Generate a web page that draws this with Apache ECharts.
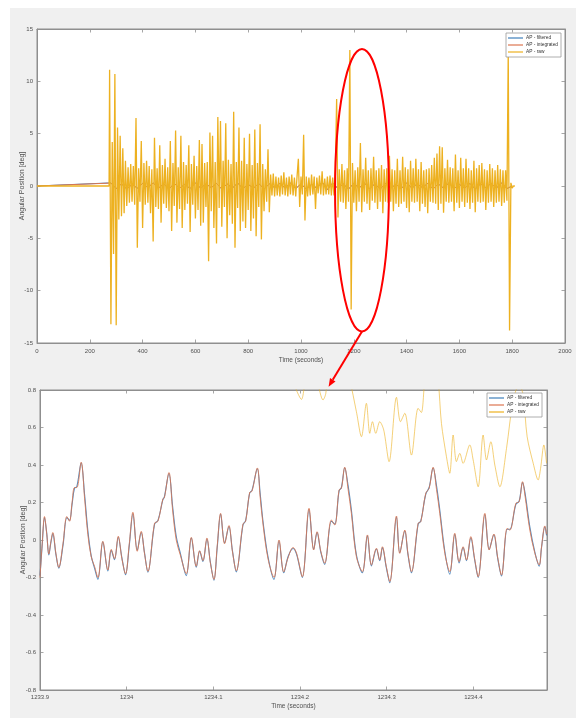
<!DOCTYPE html>
<html><head><meta charset="utf-8">
<script src="https://cdn.jsdelivr.net/npm/echarts@6/dist/echarts.min.js"></script>
<style>html,body{margin:0;padding:0;background:#f0f0f0}#c{width:576px;height:718px}</style>
</head><body><div id="c"></div>
<script>
// ---------------- DATA ----------------
const seriesNames = ['AP - filtered', 'AP - integrated', 'AP - raw'];

// Top plot tick labels
const topXTicks = [0, 200, 400, 600, 800, 1000, 1200, 1400, 1600, 1800, 2000];
const topYTicks = [-15, -10, -5, 0, 5, 10, 15];
// Bottom plot tick labels and x range
const botXTicks = [1233.9, 1234, 1234.1, 1234.2, 1234.3, 1234.4];
const botYTicks = [-0.8, -0.6, -0.4, -0.2, 0, 0.2, 0.4, 0.6, 0.8];
const botXRange = [1233.9, 1234.485];

// Top plot: recording is flat (0) until ~273 s, then sampled every 5 s
const rawTopLead = [[0, 0], [273, 0]];
const rawTopStart = 275, rawTopStep = 5;
const rawTopValues = [
 11.1,-13.2,4.2,-6.5,10.7,-13.3,5.6,-3.2,4.8,-2.9,
 3.6,-2.6,2.4,-1.9,1.8,-1.6,2.1,-1.5,1.9,-1.8,
 6.5,-5.9,1.7,-1.5,4.3,-4.0,2.2,-1.8,2.4,-1.6,
 1.9,-2.6,1.6,-5.3,4.6,-2.0,1.7,-2.2,3.9,-3.5,
 2.0,-1.7,2.6,-2.1,1.8,-2.4,4.3,-4.3,2.2,-1.9,
 5.3,-3.5,1.8,-2.2,4.8,-4.0,2.3,-2.3,2.0,-1.7,
 3.9,-4.4,2.1,-1.8,2.9,-3.1,1.9,-2.3,4.4,-3.8,
 4.0,-3.5,2.2,-2.0,2.3,-7.2,5.1,-2.4,4.8,-4.0,
 2.3,-5.5,6.6,-2.1,6.2,-3.9,2.4,-2.0,6.0,-5.0,
 2.5,-2.8,2.1,-3.6,7.1,-5.9,2.3,-2.1,5.6,-4.3,
 2.4,-3.4,4.6,-4.0,2.1,-2.3,5.0,-4.3,2.0,-3.1,
 5.4,-4.8,2.2,-2.0,5.9,-5.1,2.1,-2.4,1.6,-1.5,
 3.5,-2.5,1.1,-0.9,1.2,-1.0,0.9,-0.9,0.8,-1.0,
 1.0,-0.8,1.3,-0.9,0.8,-1.0,0.9,-0.8,1.1,-0.9,
 0.8,-1.0,0.9,2.6,-2.0,0.9,-0.8,4.9,-3.3,0.9,
 -1.0,0.8,-0.9,1.1,-0.8,0.9,-2.2,0.8,-0.7,1.0,
 -0.8,1.4,-0.9,0.7,-0.8,0.9,-0.8,1.0,-0.9,0.8,
 -0.9,1.6,8.3,-3.0,1.6,-1.5,2.1,-1.6,1.5,-2.2,
 1.7,-1.5,13.0,-11.8,2.2,-1.6,1.5,-2.4,1.8,-1.5,
 4.1,-2.5,1.6,-1.5,2.7,-1.7,1.5,-2.3,1.7,-1.4,
 2.8,-1.6,1.5,-2.2,1.7,-1.5,2.0,-2.6,1.6,-1.5,
 1.7,-1.6,2.9,-1.5,1.6,-2.4,1.5,-1.7,2.6,-2.0,
 1.5,-1.7,2.8,-1.5,1.8,-2.1,1.6,-2.5,2.4,-1.5,
 1.7,-1.6,2.6,-1.5,1.6,-2.4,2.3,-1.7,1.5,-2.0,
 1.6,-2.6,1.7,-1.5,2.0,-1.6,2.7,-1.7,3.1,-2.3,
 3.8,-1.7,3.7,-2.55,1.7,-1.5,2.5,-1.6,1.8,-1.5,
 1.7,-2.4,3.0,-1.6,1.5,-2.1,2.7,-1.5,1.7,-2.0,
 2.6,-1.6,1.7,-2.2,1.5,-1.6,2.4,-2.5,1.7,-1.5,
 2.0,-1.6,2.2,-1.5,1.6,-2.3,1.5,-1.6,2.1,-1.5,
 1.7,-2.0,1.5,-1.6,2.0,-1.5,1.6,-1.9,1.5,-1.6,
 1.5,-1.4,12.9,-13.8,0.3,-0.2,0,0
];
// Top plot filtered / integrated: sampled every 20 s from 280 s
const procTopStart = 280, procTopStep = 20;
const filteredTopValues = [
 0.3,-0.25,0.2,-0.3,0.15,-0.2,0.25,-0.15,0.3,-0.2,
 0.2,-0.3,0.25,-0.2,0.15,-0.25,0.3,-0.2,0.2,-0.15,
 0.25,-0.3,0.2,-0.2,0.3,-0.25,0.15,-0.2,0.25,-0.3,
 0.2,-0.15,0.25,-0.2,0.3,-0.25,0.2,-0.3,0.15,-0.2,
 0.4,-0.35,0.3,-0.25,0.2,-0.3,0.25,-0.2,0.3,-0.25,
 0.2,-0.3,0.25,-0.2,0.15,-0.25,0.3,-0.2,0.2,-0.15,
 0.25,-0.3,0.2,-0.2,0.3,-0.25,0.15,-0.2,0.25,-0.3,
 0.2,-0.15,0.25,-0.2,0.3,-0.25,0
];
const integratedTopValues = [
 0.28,-0.24,0.22,-0.28,0.16,-0.21,0.24,-0.16,0.28,-0.21,
 0.21,-0.28,0.24,-0.21,0.16,-0.24,0.28,-0.21,0.21,-0.16,
 0.24,-0.28,0.21,-0.21,0.28,-0.24,0.16,-0.21,0.24,-0.28,
 0.21,-0.16,0.24,-0.21,0.28,-0.24,0.21,-0.28,0.16,-0.21,
 0.38,-0.33,0.28,-0.24,0.21,-0.28,0.24,-0.21,0.28,-0.24,
 0.21,-0.28,0.24,-0.21,0.16,-0.24,0.28,-0.21,0.21,-0.16,
 0.24,-0.28,0.21,-0.21,0.28,-0.24,0.16,-0.21,0.24,-0.28,
 0.21,-0.16,0.24,-0.21,0.28,-0.24,0
];

// Bottom plot: time offsets in ms after 1233.9 s
const botBase = 1233.9;
const botMs = [
 0,2.5,5.2,7.8,10.2,12.5,14.8,18.3,21.7,26.5,
 31.0,34.1,37.0,39.8,42.5,47.5,51.5,55.2,59.1,62.9,
 66.8,72.5,78.3,82.2,86.0,90.3,94.5,98.7,103.0,107.2,
 112.2,116.8,120.5,124.5,132.2,136.1,141.8,143.5,148.8,153.0,
 157.2,161.9,168.8,174.6,180.3,184.2,188.0,192.6,196.5,200.7,
 204.5,208.4,213.0,218.0,222.0,226.5,234.2,237.3,241.9,244.6,
 250.8,254.0,257.3,263.1,270.0,275.8,281.2,286.5,292.0,296.0,
 302.7,310.4,315.8,319.7,324.0,328.5,336.2,340.1,345.1,347.8,
 351.6,355.5,359.3,365.1,372.0,377.8,382.4,388.2,392.0,395.1,
 399.5,403.6,411.3,415.1,420.9,424.5,428.6,436.3,439.4,445.1,
 449.0,453.6,457.5,461.3,467.1,472.8,478.6,483.6,488.2,492.1,
 497.1,501.5,505.6,513.3,518.3,523.7,528.0,532.5,539.0,542.1,
 549.1,552.9,556.8,559.5,565.2,571.0,576.0,578.7,582.5,584.5
];
const integratedBot = [
 -0.20,-0.02,0.125,0.03,-0.075,-0.01,0.04,-0.07,-0.146,-0.02,
 0.125,0.10,0.20,0.28,0.28,0.415,0.22,0.03,-0.09,-0.14,
 -0.20,-0.007,-0.16,-0.05,-0.10,0.02,-0.10,-0.18,-0.02,0.148,
 -0.06,0.046,-0.07,-0.167,0.09,0.10,0.22,0.225,0.36,0.16,
 0.0,-0.08,-0.18,0.014,-0.14,-0.057,-0.11,0.01,-0.12,-0.21,
 -0.03,0.142,-0.02,0.077,-0.06,-0.164,0.085,0.10,0.254,0.26,
 0.384,0.23,0.085,-0.10,-0.20,0.0,-0.17,-0.09,-0.04,-0.07,
 -0.196,0.169,-0.053,0.044,-0.06,-0.124,0.107,0.08,0.267,0.276,
 0.388,0.27,0.142,-0.089,-0.169,0.027,-0.133,-0.044,-0.107,-0.036,
 -0.14,-0.222,0.128,-0.071,0.053,-0.07,-0.169,0.089,0.098,0.249,
 0.276,0.388,0.27,0.142,-0.071,-0.169,0.036,-0.116,-0.036,-0.107,
 0.018,-0.10,-0.196,0.142,-0.053,0.032,-0.09,-0.187,0.062,0.053,
 0.196,0.204,0.311,0.24,0.053,-0.071,-0.133,-0.036,0.075,0.03
];
const filteredBot = [
 -0.19,-0.03,0.12,0.035,-0.08,-0.015,0.035,-0.075,-0.15,-0.03,
 0.12,0.105,0.19,0.275,0.285,0.41,0.24,0.05,-0.085,-0.15,
 -0.21,-0.01,-0.165,-0.055,-0.105,0.015,-0.095,-0.185,-0.03,0.14,
 -0.055,0.04,-0.065,-0.172,0.085,0.105,0.215,0.23,0.355,0.18,
 0.02,-0.07,-0.19,0.01,-0.145,-0.06,-0.115,0.005,-0.115,-0.215,
 -0.04,0.138,-0.015,0.072,-0.055,-0.17,0.08,0.105,0.25,0.265,
 0.38,0.25,0.10,-0.09,-0.21,-0.005,-0.175,-0.085,-0.045,-0.075,
 -0.2,0.162,-0.05,0.04,-0.065,-0.13,0.1,0.085,0.262,0.28,
 0.385,0.29,0.16,-0.08,-0.175,0.022,-0.138,-0.048,-0.11,-0.04,
 -0.145,-0.228,0.122,-0.068,0.048,-0.075,-0.175,0.084,0.102,0.244,
 0.28,0.384,0.29,0.16,-0.06,-0.182,0.03,-0.122,-0.04,-0.11,
 0.012,-0.105,-0.2,0.136,-0.05,0.028,-0.095,-0.192,0.057,0.057,
 0.19,0.208,0.306,0.255,0.07,-0.065,-0.14,-0.04,0.07,0.025
];
const rawBotMs = [
 0,60,150,230,270,288.1,295.8,301.6,307.3,315,
 320,326.6,329.7,334.3,345,357.4,365.1,370.9,376.6,380.5,
 383.6,387.4,392.0,396.6,402.8,411.3,415.9,420.9,428.6,436.3,
 440.0,444.0,449.8,455,459.4,463.2,469.0,472.8,476.7,480.5,
 484.4,488.2,495.9,499.8,505.6,511.3,515.2,520.2,524.8,530.6,
 538.3,546.0,552.9,557.5,562.1,569.1,574.8,577.6,581.4,584.5
];
const rawBot = [
 1.3,1.5,1.2,1.1,0.95,0.9,0.8,0.75,0.88,0.95,
 0.85,0.747,0.78,0.95,1.05,0.853,0.684,0.551,0.729,0.569,
 0.631,0.569,0.631,0.587,0.418,0.761,0.631,0.676,0.453,0.702,
 0.68,0.85,1.0,0.95,0.853,0.622,0.444,0.356,0.56,0.418,
 0.462,0.409,0.507,0.427,0.284,0.56,0.427,0.524,0.4,0.284,
 0.489,0.747,0.827,0.773,0.551,0.409,0.32,0.382,0.507,0.409
];

// Annotation (data coordinates): ellipse in top plot, arrow tip in bottom plot
const ellipseT = [1129, 1333], ellipseV = [-13.9, 13.1];
const arrowTip = [1234.233, 0.818];

// ---------------- BUILD ----------------
const colors = ['#3f7fba', '#dc7650', '#EDB120'];
const FONT = 'Liberation Sans, Arial, Helvetica, sans-serif';
const AXC = '#8f8f8f', TXC = '#505050';

const regular = (start, step, vals, lead) => (lead || []).concat(vals.map((v, i) => [start + i * step, v]));
const rawTopData = regular(rawTopStart, rawTopStep, rawTopValues, rawTopLead);
const filtTopData = regular(procTopStart, procTopStep, filteredTopValues, [[0, 0]]);
const intTopData = regular(procTopStart, procTopStep, integratedTopValues, [[0, 0]]);
const ms2t = ms => +(botBase + ms / 1000).toFixed(5);
const filtBotData = botMs.map((m, i) => [ms2t(m), filteredBot[i]]);
const intBotData = botMs.map((m, i) => [ms2t(m), integratedBot[i]]);
const rawBotData = rawBotMs.map((m, i) => [ms2t(m), rawBot[i]]);

const fmtFrom = (ticks, dec) => v => {
  const r = +v.toFixed(dec);
  return ticks.some(t => Math.abs(t - r) < 1e-9) ? String(r) : '';
};
const lbl = {fontSize: 6, color: TXC, fontFamily: FONT};
const tick = {show: true, inside: true, length: 3.5, lineStyle: {color: AXC, width: 0.8}};
const line = {show: true, onZero: false, lineStyle: {color: AXC, width: 1}};

function mkX(grid, ticks, min, max, dec, isMirror, nameGap, margin) {
  return {
    type: 'value', gridIndex: grid, min, max, interval: +(ticks[1] - ticks[0]).toFixed(6),
    position: isMirror ? 'top' : 'bottom',
    axisLine: line, axisTick: tick, splitLine: {show: false},
    axisLabel: isMirror ? {show: false} : Object.assign({formatter: fmtFrom(ticks, dec), margin: margin, hideOverlap: false}, lbl),
    name: isMirror ? '' : 'Time (seconds)', nameLocation: 'middle', nameGap: nameGap, nameMoveOverlap: false,
    nameTextStyle: {fontSize: 6.5, color: TXC, fontFamily: FONT}
  };
}
function mkY(grid, ticks, dec, isMirror, nameGap) {
  return {
    type: 'value', gridIndex: grid, min: ticks[0], max: ticks[ticks.length - 1],
    interval: +(ticks[1] - ticks[0]).toFixed(6),
    position: isMirror ? 'right' : 'left',
    axisLine: line, axisTick: tick, splitLine: {show: false},
    axisLabel: isMirror ? {show: false} : Object.assign({formatter: fmtFrom(ticks, dec), margin: 4}, lbl),
    name: isMirror ? '' : 'Angular Position [deg]', nameLocation: 'middle', nameGap: nameGap, nameMoveOverlap: false,
    nameTextStyle: {fontSize: 7, color: TXC, fontFamily: FONT}
  };
}
function ser(name, data, xi, yi, color, width, smooth, opacity) {
  return {
    name, type: 'line', data, xAxisIndex: xi, yAxisIndex: yi, showSymbol: false, symbol: 'none',
    smooth: smooth, clip: true, animation: false,
    lineStyle: {color, width, opacity: opacity == null ? 1 : opacity}, itemStyle: {color},
    emphasis: {disabled: true}
  };
}
const legendBase = {
  orient: 'vertical', itemWidth: 15, itemHeight: 1.2, itemGap: 0, icon: 'rect',
  backgroundColor: '#ffffff', borderColor: '#9a9a9a', borderWidth: 0.8, borderRadius: 0,
  padding: [1.5, 3, 1.5, 2], selectedMode: false,
  textStyle: {fontSize: 4.8, lineHeight: 7, color: '#333', fontFamily: FONT, padding: [0, 0, 0, -2]},
  data: seriesNames
};

const option = {
  backgroundColor: '#f0f0f0',
  animation: false,
  grid: [
    {left: 37, top: 29, width: 528, height: 314, show: true, backgroundColor: '#fff', borderColor: AXC, borderWidth: 1, containLabel: false},
    {left: 40, top: 390, width: 507, height: 300, show: true, backgroundColor: '#fff', borderColor: AXC, borderWidth: 1, containLabel: false}
  ],
  xAxis: [
    mkX(0, topXTicks, topXTicks[0], topXTicks[topXTicks.length - 1], 0, false, 13.5, 5),
    mkX(0, topXTicks, topXTicks[0], topXTicks[topXTicks.length - 1], 0, true, 0),
    mkX(1, botXTicks, botXRange[0], botXRange[1], 1, false, 13, 4.5),
    mkX(1, botXTicks, botXRange[0], botXRange[1], 1, true, 0)
  ],
  yAxis: [
    mkY(0, topYTicks, 0, false, 11.5),
    mkY(0, topYTicks, 0, true, 0),
    mkY(1, botYTicks, 1, false, 13.5),
    mkY(1, botYTicks, 1, true, 0)
  ],
  legend: [
    Object.assign({right: 15, top: 33}, legendBase),
    Object.assign({right: 34, top: 393}, legendBase)
  ],
  series: [
    ser(seriesNames[0], filtTopData, 0, 0, colors[0], 1, false),
    ser(seriesNames[1], intTopData, 0, 0, colors[1], 1, false),
    ser(seriesNames[2], rawTopData, 0, 0, colors[2], 1.3, false),
    ser(seriesNames[0], filtBotData, 2, 2, colors[0], 1.1, 0.35, 0.9),
    ser(seriesNames[1], intBotData, 2, 2, colors[1], 1, 0.35, 0.85),
    ser(seriesNames[2], rawBotData, 2, 2, colors[2], 1, 0.3, 0.6)
  ]
};

const chart = echarts.init(document.getElementById('c'), null, {renderer: 'canvas'});
chart.setOption(option);

// ---------------- ANNOTATION ----------------
const pTop = pt => chart.convertToPixel({seriesIndex: 2}, pt);
const pBot = pt => chart.convertToPixel({seriesIndex: 5}, pt);
const eLB = pTop([ellipseT[0], ellipseV[0]]);
const eRT = pTop([ellipseT[1], ellipseV[1]]);
const cx = (eLB[0] + eRT[0]) / 2, cy = (eLB[1] + eRT[1]) / 2;
const rx = Math.abs(eRT[0] - eLB[0]) / 2, ry = Math.abs(eLB[1] - eRT[1]) / 2;
const start = [cx, cy + ry];
const tip = pBot(arrowTip);
const dx = tip[0] - start[0], dy = tip[1] - start[1];
const len = Math.sqrt(dx * dx + dy * dy);
const ux = dx / len, uy = dy / len;
const headL = 8, headW = 3.2;
const base = [tip[0] - ux * headL, tip[1] - uy * headL];
const nx = -uy, ny = ux;

chart.setOption({
  graphic: [
    {type: 'rect', silent: true, z: 100, shape: {x: 0, y: 0, width: 576, height: 8}, style: {fill: '#ffffff'}},
    {type: 'rect', silent: true, z: 100, shape: {x: 0, y: 0, width: 10, height: 718}, style: {fill: '#ffffff'}},
    {type: 'ellipse', silent: true, z: 100, shape: {cx, cy, rx, ry}, style: {fill: 'none', stroke: '#ff0000', lineWidth: 2}},
    {type: 'line', silent: true, z: 100, shape: {x1: start[0], y1: start[1], x2: base[0], y2: base[1]}, style: {stroke: '#ff0000', lineWidth: 2}},
    {type: 'polygon', silent: true, z: 100, shape: {points: [tip, [base[0] + nx * headW, base[1] + ny * headW], [base[0] - nx * headW, base[1] - ny * headW]]}, style: {fill: '#ff0000'}}
  ]
});
</script>
</body></html>
